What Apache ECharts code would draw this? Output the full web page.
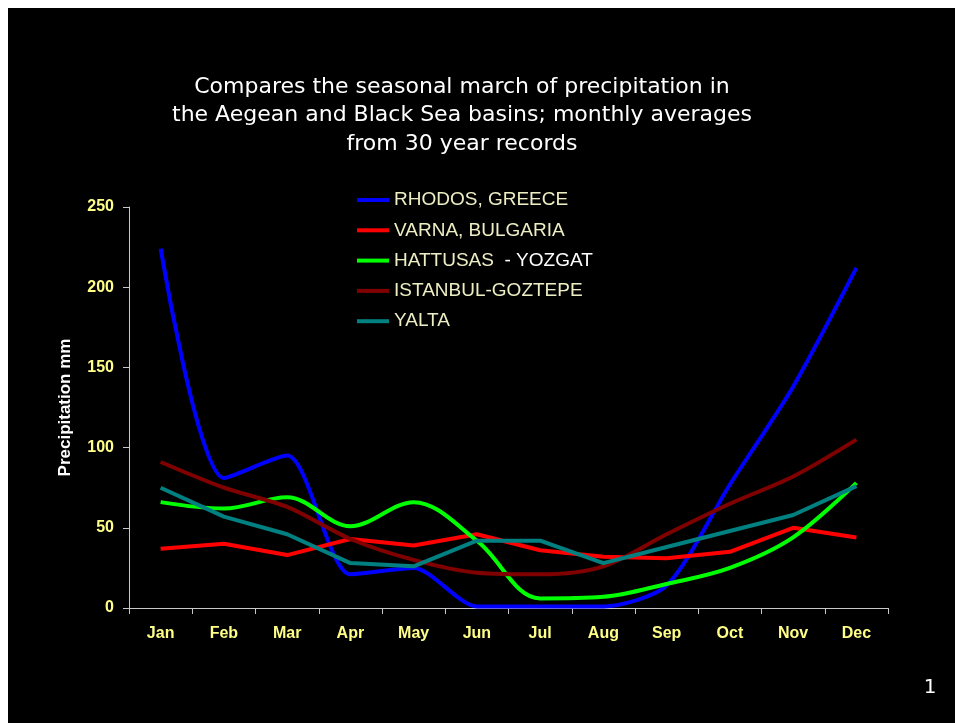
<!DOCTYPE html>
<html>
<head>
<meta charset="utf-8">
<style>
  html, body { margin: 0; padding: 0; background: #fff; }
  #chart { width: 955px; height: 723px; }
</style>
<script src="https://cdn.jsdelivr.net/npm/echarts@6/dist/echarts.min.js"></script>
</head>
<body>
<div id="chart"></div>
<script>
// Monthly precipitation (mm), 30-year averages
const months = ['Jan', 'Feb', 'Mar', 'Apr', 'May', 'Jun', 'Jul', 'Aug', 'Sep', 'Oct', 'Nov', 'Dec'];
const yTicks = [0, 50, 100, 150, 200, 250];

const rhodos   = [224, 81, 95, 21, 25, 1, 1, 1, 14, 77, 138, 212];
const varna    = [37, 40, 33, 43, 39, 46, 36, 32, 31, 35, 50, 44];
const hattusas = [66, 62, 69, 51, 66, 42, 6, 7, 15, 25, 44, 78];
const istanbul = [91, 75, 63, 43, 30, 22, 21, 26, 46, 65, 82, 105];
const yalta    = [75, 57, 46, 28, 26, 42, 42, 28, 38, 48, 58, 76];

const stations = [
  { name: 'RHODOS, GREECE',   data: rhodos,   color: '#0000ff', smooth: 0.25 },
  { name: 'VARNA, BULGARIA',  data: varna,    color: '#ff0000', smooth: false },
  { name: 'HATTUSAS',         data: hattusas, color: '#00ff00', smooth: 0.35 },
  { name: 'ISTANBUL-GOZTEPE', data: istanbul, color: '#800000', smooth: 0.3 },
  { name: 'YALTA',            data: yalta,    color: '#008080', smooth: false }
];

const chart = echarts.init(document.getElementById('chart'), null, { renderer: 'canvas' });

chart.setOption({
  backgroundColor: '#ffffff',
  animation: false,
  graphic: [
    { type: 'rect', z: -10, silent: true,
      shape: { x: 8, y: 8, width: 947, height: 715 },
      style: { fill: '#000000' } },
    { type: 'text', x: 930, y: 688,
      style: { text: '1', fill: '#ffffff', font: '20px "DejaVu Sans"', align: 'center', verticalAlign: 'middle' } }
  ],
  title: {
    text: 'Compares the seasonal march of precipitation in\nthe Aegean and Black Sea basins; monthly averages\nfrom 30 year records',
    left: 457,
    top: 68,
    textAlign: 'center',
    textStyle: {
      color: '#ffffff',
      fontFamily: 'DejaVu Sans',
      fontWeight: 'normal',
      fontSize: 22,
      lineHeight: 28.5
    }
  },
  legend: {
    orient: 'vertical',
    left: 357,
    top: 190,
    itemWidth: 32,
    itemHeight: 4,
    itemGap: 10.3,
    icon: 'rect',
    padding: 0,
    data: stations.map(s => s.name),
    formatter: name => name === 'HATTUSAS' ? '{a|HATTUSAS}{b|  - YOZGAT}' : '{a|' + name + '}',
    textStyle: {
      fontFamily: 'Liberation Sans',
      fontSize: 19,
      lineHeight: 20,
      color: '#eeeec4',
      rich: {
        a: { fontFamily: 'Liberation Sans', fontSize: 19, lineHeight: 20, color: '#eeeec4' },
        b: { fontFamily: 'Liberation Sans', fontSize: 19, lineHeight: 20, color: '#ffffff' }
      }
    }
  },
  grid: { left: 129, right: 67, top: 207, bottom: 115 },
  xAxis: {
    type: 'category',
    data: months,
    boundaryGap: true,
    axisLine: { lineStyle: { color: '#c8c8c8', width: 1 } },
    axisTick: { show: true, length: 6, lineStyle: { color: '#c8c8c8' } },
    axisLabel: {
      margin: 18,
      color: '#ffff88',
      fontFamily: 'Liberation Sans',
      fontWeight: 'bold',
      fontSize: 16
    },
    splitLine: { show: false }
  },
  yAxis: {
    type: 'value',
    min: yTicks[0],
    max: yTicks[yTicks.length - 1],
    interval: 50,
    name: 'Precipitation mm',
    nameLocation: 'middle',
    nameGap: 55,
    nameTextStyle: {
      color: '#ffffff',
      fontFamily: 'Liberation Sans',
      fontWeight: 'bold',
      fontSize: 17
    },
    axisLine: { show: true, lineStyle: { color: '#c8c8c8', width: 1 } },
    axisTick: { show: true, length: 6, lineStyle: { color: '#c8c8c8' } },
    axisLabel: {
      margin: 15,
      color: '#ffff88',
      fontFamily: 'Liberation Sans',
      fontWeight: 'bold',
      fontSize: 16
    },
    splitLine: { show: false }
  },
  series: stations.map(s => ({
    name: s.name,
    type: 'line',
    data: s.data,
    smooth: s.smooth,
    showSymbol: false,
    symbol: 'none',
    color: s.color,
    lineStyle: { color: s.color, width: 4 }
  }))
});
</script>
</body>
</html>
